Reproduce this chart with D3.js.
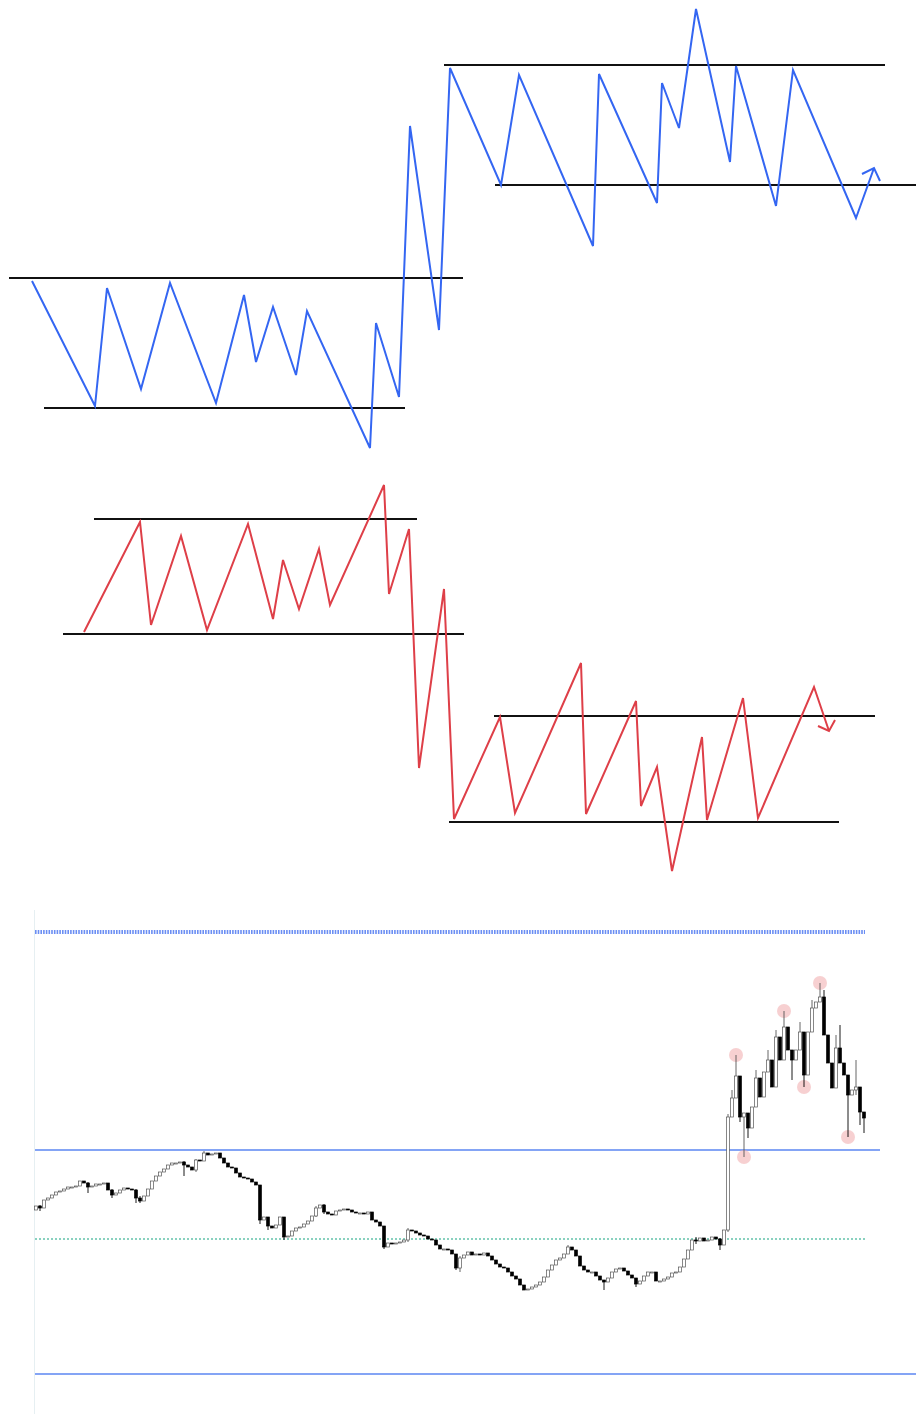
<!DOCTYPE html>
<html>
<head>
<meta charset="utf-8">
<script src="https://cdn.jsdelivr.net/npm/d3@7"></script>
<style>
  html, body { margin: 0; padding: 0; background: #fff; }
  svg { display: block; }
</style>
</head>
<body>
<svg id="chart" width="916" height="1414"></svg>
<script>
// ---- panel 1: range breakout up (blue zigzag) ----
// [time, value]
const bluePath = [
  [16, 89.5], [47.5, 27], [53.5, 86], [70.5, 35.5], [85, 88.5], [108, 28.5],
  [122, 82.5], [128, 49], [136.5, 76.5], [148, 42.5], [153.5, 74.5], [185, 6],
  [188, 68.5], [199.5, 31.5], [205, 167], [219.5, 65], [225, 196], [250.5, 137.5],
  [259.5, 192.5], [296.5, 107], [299.5, 193], [328.5, 128.5], [331, 188.5],
  [339.5, 166], [348, 225.5], [365, 149], [368, 197], [388, 127], [396.5, 195],
  [428, 121], [437, 146]
];
const blueArrow = [[431, 143], [437, 146], [440, 139.5]];
// [value, from, to]
const blueLevels = [
  [91, 4.5, 231.5],
  [26, 22, 202.5],
  [197.5, 222, 442.5],
  [137.5, 247.5, 458]
];

// ---- panel 2: range breakdown (red zigzag) ----
const redPath = [
  [42, 134], [70, 189], [75.5, 137.5], [90.5, 182], [103.5, 135], [124, 188],
  [136.5, 140.5], [141.5, 170], [149.5, 145.5], [159.5, 175.5], [165, 147.5],
  [192, 207.5], [194.5, 153], [204.5, 185.5], [209.5, 66], [222, 155.5],
  [227, 40.5], [250, 91.5], [257.5, 43.5], [290.5, 118.5], [293, 43],
  [318, 99.5], [320.5, 47], [328.5, 66.5], [336, 14.5], [351, 81.5],
  [353.5, 40], [371.5, 101], [379, 41], [407, 106.5], [414.5, 84.5]
];
const redArrow = [[409, 87], [414.5, 84.5], [417.5, 90]];
const redLevels = [
  [190.5, 47, 208.5],
  [133, 31.5, 232],
  [92, 247, 437.5],
  [39, 224.5, 419.5]
];

// ---- panel 3: candlesticks ----
const firstOpen = 102;
const closes = [
  104, 103, 107, 108, 109.5, 111, 111.5, 112.5, 113.5, 113.5,
  114, 116.5, 115.5, 113.5, 114, 115, 115, 115.5, 112, 109.5,
  110.5, 112, 113, 112.5, 112, 108, 106.5, 109, 112.5, 116.5,
  119, 121, 122.5, 124.5, 125.5, 125.5, 126, 124.5, 123.5, 122,
  127, 126.5, 130.5, 129.5, 130, 130.5, 128, 125.5, 123.5, 123,
  120.5, 118.5, 118, 117.5, 116, 114.5, 97, 98.5, 94, 93,
  94.5, 98.5, 88.5, 89, 91.5, 93, 93.5, 95, 96.5, 99,
  103, 104.5, 101, 100, 99.5, 101.5, 102, 102.5, 102, 101,
  100.5, 100.5, 100, 101, 97, 96, 94, 83.5, 85.5, 85,
  85.5, 86, 87, 92, 91.5, 90.5, 89.5, 89, 87.5, 87,
  84.5, 82.5, 82.5, 82, 80, 73, 78, 79.5, 81, 79.5,
  80, 79.5, 80.5, 79, 77, 75, 73.5, 73, 71, 69,
  67.5, 64.5, 62, 62.5, 63.5, 64.5, 66, 68.5, 72, 74.5,
  77, 78, 80, 83.5, 82, 79, 74, 72, 71, 71,
  69, 67, 66, 68, 71, 72.5, 73, 71.5, 69.5, 68,
  65, 66.5, 69, 71, 71, 66.5, 66.5, 67.5, 68.5, 70.5,
  71, 73.5, 77.5, 82, 87, 86.5, 88, 86.5, 87, 88.5,
  87.5, 84.5, 92, 148.5, 158, 169, 148.5, 150.5, 143, 153.5,
  168, 158.5, 171, 177, 163.5, 188.5, 177, 193.5, 182, 177,
  182, 191, 169.5, 191, 203, 206, 208.5, 189.5, 175.5, 163,
  183, 175.5, 169.5, 159.5, 162, 163.5, 151, 148
];
// [index, high, low] for candles whose wicks stick out of the body
const wicks = [
  [1, 104.5, 101.5], [13, 116, 110.5], [19, 112.5, 108], [25, 112.5, 105.5],
  [26, 109, 105.5], [37, 126.5, 119], [40, 127.5, 121], [42, 131.5, 126.5],
  [56, 114.5, 95], [58, 98.5, 92], [62, 98.5, 87], [70, 104, 98.5], [72, 105, 100],
  [87, 94, 82.5], [93, 93, 86], [105, 80, 72], [106, 79, 71],
  [133, 84.5, 80], [142, 67, 62], [150, 68, 63.5], [165, 88.5, 85],
  [171, 88, 82], [173, 150, 91], [174, 162, 148.5],
  [175, 179.5, 158], [176, 169, 146], [177, 150.5, 128.5], [178, 150.5, 138],
  [180, 172, 153.5], [183, 182, 171], [185, 192, 163.5], [187, 201.5, 177],
  [189, 182, 167], [191, 196, 182], [192, 191, 163.5], [194, 207, 191],
  [196, 215.5, 206], [197, 212, 189.5], [200, 189.5, 163], [201, 194.5, 175.5],
  [203, 169.5, 138.5], [205, 177, 159.5], [206, 163.5, 144.5], [207, 151, 140.5]
];
// swing points marked with circles: [index, "high" | "low"]
const swings = [[175, "high"], [177, "low"], [187, "high"], [192, "low"], [196, "high"], [203, "low"]];
// horizontal levels: [price, toIndex, style]
const candleLevels = [
  [241, 207.25, "dotBlue"],
  [132, 211, "solid"],
  [87.5, 207.25, "dotGreen"],
  [20, 220, "solid"]
];

const svg = d3.select("#chart");

function zigzagPanel(path, arrow, levels, color, yRange, yDomain) {
  const x = d3.scaleLinear().domain([0, 458]).range([0, 916]);
  const y = d3.scaleLinear().domain(yDomain).range(yRange);
  const g = svg.append("g");
  const line = d3.line().x(d => x(d[0])).y(d => y(d[1]));

  g.selectAll("line.level")
    .data(levels)
    .join("line")
    .attr("class", "level")
    .attr("x1", d => x(d[1]))
    .attr("x2", d => x(d[2]))
    .attr("y1", d => y(d[0]))
    .attr("y2", d => y(d[0]))
    .attr("stroke", "#111")
    .attr("stroke-width", 2.2);

  g.append("path")
    .datum(path)
    .attr("d", line)
    .attr("fill", "none")
    .attr("stroke", color)
    .attr("stroke-width", 2)
    .attr("stroke-linejoin", "miter");

  g.append("path")
    .datum(arrow)
    .attr("d", line)
    .attr("fill", "none")
    .attr("stroke", color)
    .attr("stroke-width", 2);
}

zigzagPanel(bluePath, blueArrow, blueLevels, "#3466f2", [460, 0], [0, 230]);
zigzagPanel(redPath, redArrow, redLevels, "#de3f48", [900, 460], [0, 220]);

// candles
const candles = closes.map((c, i) => {
  const o = i === 0 ? firstOpen : closes[i - 1];
  return { i, o, c, h: Math.max(o, c), l: Math.min(o, c) };
});
wicks.forEach(([i, h, l]) => {
  candles[i].h = Math.max(candles[i].h, h);
  candles[i].l = Math.min(candles[i].l, l);
});

const cx = d3.scaleLinear().domain([0, closes.length - 1]).range([36, 864]);
const cy = d3.scaleLinear().domain([20, 241]).range([1374, 932]);

const cg = svg.append("g");

// faint left border of the price pane
cg.append("line")
  .attr("x1", 34.5).attr("x2", 34.5)
  .attr("y1", 910).attr("y2", 1414)
  .attr("stroke", "#e6eff2")
  .attr("stroke-width", 1);

const levelStyle = {
  dotBlue: { stroke: "#6b8ef3", width: 4, dash: "1.6,1.1" },
  solid: { stroke: "#5b86f2", width: 1.5, dash: null },
  dotGreen: { stroke: "#63c2aa", width: 1.5, dash: "2,2" }
};
cg.selectAll("line.clevel")
  .data(candleLevels)
  .join("line")
  .attr("class", "clevel")
  .attr("x1", cx(-0.25))
  .attr("x2", d => cx(d[1]))
  .attr("y1", d => cy(d[0]))
  .attr("y2", d => cy(d[0]))
  .attr("stroke", d => levelStyle[d[2]].stroke)
  .attr("stroke-width", d => levelStyle[d[2]].width)
  .attr("stroke-dasharray", d => levelStyle[d[2]].dash);

// swing circles behind candles
cg.selectAll("circle.swing")
  .data(swings)
  .join("circle")
  .attr("class", "swing")
  .attr("cx", d => cx(d[0]))
  .attr("cy", d => cy(d[1] === "high" ? candles[d[0]].h : candles[d[0]].l))
  .attr("r", 7)
  .attr("fill", "#f2b0b2")
  .attr("fill-opacity", 0.6);

const bw = 2.8;
const cgroup = cg.selectAll("g.candle")
  .data(candles)
  .join("g")
  .attr("class", "candle");

cgroup.append("line")
  .attr("x1", d => cx(d.i))
  .attr("x2", d => cx(d.i))
  .attr("y1", d => cy(d.h))
  .attr("y2", d => cy(d.l))
  .attr("stroke", d => d.c >= d.o ? "#555" : "#000")
  .attr("stroke-width", 0.9);

cgroup.append("rect")
  .attr("x", d => cx(d.i) - bw / 2)
  .attr("width", bw)
  .attr("y", d => cy(Math.max(d.o, d.c)))
  .attr("height", d => Math.max(1, Math.abs(cy(d.o) - cy(d.c))))
  .attr("fill", d => d.c >= d.o ? "#fff" : "#000")
  .attr("stroke", d => d.c >= d.o ? "#555" : "#000")
  .attr("stroke-width", 0.7);
</script>
</body>
</html>
